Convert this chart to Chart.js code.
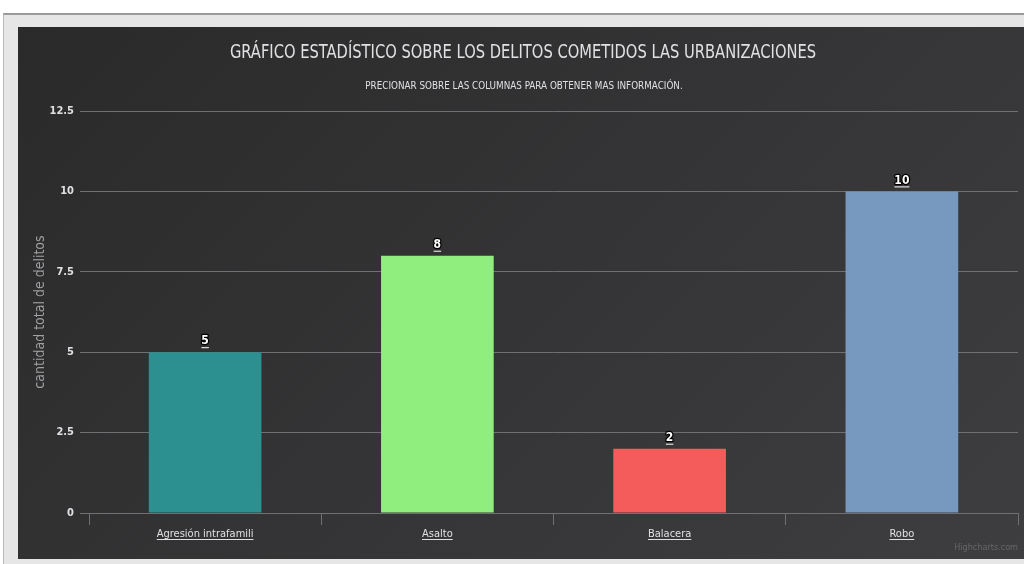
<!DOCTYPE html>
<html>
<head>
<meta charset="utf-8">
<script src="https://cdn.jsdelivr.net/npm/chart.js@4.4.1/dist/chart.umd.min.js"></script>
<style>
  html, body { margin: 0; padding: 0; background: #ffffff; width: 1024px; height: 564px; overflow: hidden; }
  #frame { position: absolute; left: 3px; top: 13px; width: 1030px; height: 560px; background: #e6e6e6;
           border-top: 2px solid #9a9a9a; border-left: 1px solid #b8b8b8; box-sizing: border-box; }
  #wrap { position: absolute; left: 18px; top: 27px; width: 1006px; height: 532px;
          background: linear-gradient(135deg, #2a2a2b 0%, #3e3e40 100%); }
</style>
</head>
<body>
<div id="frame"></div>
<div id="wrap"><canvas id="c"></canvas></div>
<script>
const titleText = 'GRÁFICO ESTADÍSTICO SOBRE LOS DELITOS COMETIDOS LAS URBANIZACIONES';
const subtitleText = 'PRECIONAR SOBRE LAS COLUMNAS PARA OBTENER MAS INFORMACIÓN.';
const categories = ['Agresión intrafamili', 'Asalto', 'Balacera', 'Robo'];
const values = [5, 8, 2, 10];
const barColors = ['#2b908f', '#90ee7e', '#f45b5b', '#7798BF'];
const yTicks = [0, 2.5, 5, 7.5, 10, 12.5];
const yAxisTitle = 'cantidad total de delitos';
const creditsText = 'Highcharts.com';

const FONT = '"DejaVu Sans Condensed", "Liberation Sans Narrow", "DejaVu Sans", sans-serif';

function squishText(ctx, text, x, y, sx) {
  ctx.save();
  ctx.translate(x, y);
  ctx.scale(sx, 1);
  ctx.fillText(text, 0, 0);
  ctx.restore();
}

const overlay = {
  id: 'overlay',
  afterDraw(chart) {
    const ctx = chart.ctx;
    ctx.save();
    // title & subtitle (narrowed to mimic condensed face)
    ctx.textAlign = 'center';
    ctx.textBaseline = 'middle';
    ctx.fillStyle = '#E0E0E3';
    ctx.font = '19px ' + FONT;
    squishText(ctx, titleText, 505, 26.5, 0.86);
    ctx.font = '11px ' + FONT;
    squishText(ctx, subtitleText, 506, 59.5, 0.89);
    ctx.restore();
  },
  afterDatasetsDraw(chart) {
    const ctx = chart.ctx;
    const meta = chart.getDatasetMeta(0);
    ctx.save();
    ctx.font = 'bold 12px ' + FONT;
    ctx.textAlign = 'center';
    ctx.textBaseline = 'middle';
    meta.data.forEach((bar, i) => {
      const t = String(values[i]);
      const x = bar.x, y = bar.y - 11;
      ctx.lineWidth = 2.5;
      ctx.strokeStyle = '#000000';
      ctx.lineJoin = 'round';
      ctx.strokeText(t, x, y);
      ctx.fillStyle = '#ffffff';
      ctx.fillText(t, x, y);
      const w = ctx.measureText(t).width;
      ctx.fillRect(x - w / 2, y + 6, w, 1);
    });
    // underline x labels
    const xs = chart.scales.x;
    ctx.font = '11px ' + FONT;
    ctx.fillStyle = '#E0E0E3';
    categories.forEach((c, i) => {
      const x = xs.getPixelForValue(i);
      const w = ctx.measureText(c).width;
      ctx.fillRect(x - w / 2, 512, w, 1);
    });
    // credits
    ctx.font = '9px ' + FONT;
    ctx.textAlign = 'right';
    ctx.fillStyle = '#666666';
    ctx.fillText(creditsText, 1000, 521);
    ctx.restore();
  }
};

new Chart(document.getElementById('c'), {
  type: 'bar',
  data: {
    labels: categories,
    datasets: [{
      data: values,
      backgroundColor: barColors,
      borderWidth: 0,
      barPercentage: 0.97,
      categoryPercentage: 0.5
    }]
  },
  options: {
    responsive: true,
    maintainAspectRatio: false,
    animation: false,
    layout: { padding: { left: 0, right: 6, top: 84, bottom: 0 } },
    plugins: {
      legend: { display: false },
      tooltip: { enabled: false },
      title: { display: false },
      subtitle: { display: false }
    },
    scales: {
      x: {
        grid: { display: true, drawOnChartArea: false, drawTicks: true, tickLength: 12, color: '#707073', offset: true },
        border: { display: true, color: '#707073' },
        ticks: { color: '#E0E0E3', font: { family: FONT, size: 11 }, padding: 3, maxRotation: 0 },
        afterFit(s) { s.height = 46; }
      },
      y: {
        min: 0, max: 12.5,
        afterBuildTicks(s) { s.ticks = yTicks.map(v => ({ value: v })); },
        grid: { color: '#707073', drawTicks: true, tickLength: 9 },
        border: { display: false },
        ticks: { color: '#E0E0E3', font: { family: FONT, size: 11, weight: 'bold' }, padding: 6 },
        title: { display: true, text: yAxisTitle, color: '#A0A0A3', font: { family: FONT, size: 14 }, padding: { top: 14, bottom: 8 } },
        afterFit(s) { s.width = 71; }
      }
    }
  },
  plugins: [overlay]
});
</script>
</body>
</html>
